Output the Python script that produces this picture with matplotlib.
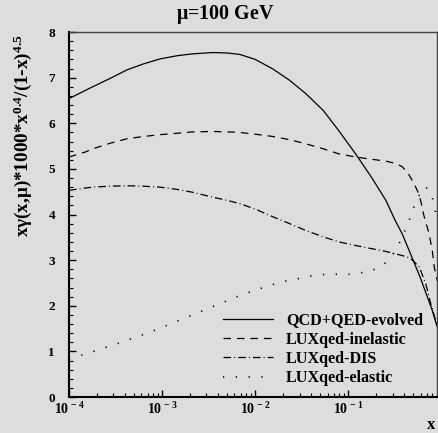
import numpy as np
import matplotlib
matplotlib.use('Agg')
import matplotlib.pyplot as plt
from matplotlib.ticker import MultipleLocator, LogLocator, NullFormatter

# photon PDF at mu = 100 GeV, weighted by 1000*x^0.4/(1-x)^4.5
x_grid = [1e-4, 1.5e-4, 1.8e-4, 2.75e-4, 4.2e-4, 6.3e-4, 9.5e-4, 1.45e-3, 2.1e-3,
          3.5e-3, 5.0e-3, 6.8e-3, 0.01, 0.0155, 0.0235, 0.035, 0.054, 0.079, 0.12,
          0.18, 0.254, 0.32, 0.38]

x_evolved = x_grid + [0.51, 0.60, 0.71, 0.80, 0.87, 0.9]
y_evolved = [6.54, 6.72, 6.80, 6.98, 7.17, 7.30, 7.41, 7.48, 7.52,
             7.55, 7.54, 7.51, 7.40, 7.19, 6.94, 6.65, 6.28, 5.84, 5.33,
             4.80, 4.31, 3.87, 3.58,
             2.95, 2.60, 2.19, 1.90, 1.65, 1.55]

x_inel = x_grid + [0.45, 0.51, 0.56, 0.60, 0.65, 0.74, 0.80, 0.84, 0.895, 0.9]
y_inel = [5.26, 5.37, 5.44, 5.56, 5.66, 5.71, 5.75, 5.78, 5.81,
          5.82, 5.81, 5.80, 5.76, 5.71, 5.64, 5.55, 5.44, 5.33, 5.26,
          5.21, 5.17, 5.12, 5.05,
          4.87, 4.68, 4.50, 4.31, 3.98, 3.58, 3.22, 2.85, 2.60, 2.55]

x_dis = x_grid + [0.43, 0.49, 0.58, 0.68, 0.77, 0.87, 0.9]
y_dis = [4.53, 4.58, 4.60, 4.62, 4.63, 4.62, 4.60, 4.55, 4.49,
         4.38, 4.31, 4.24, 4.12, 3.95, 3.80, 3.65, 3.51, 3.40, 3.32,
         3.25, 3.19, 3.14, 3.10,
         3.07, 3.00, 2.85, 2.49, 2.05, 1.68, 1.58]

x_el = [1e-4, 1.48e-4, 2.04e-4, 2.8e-4, 3.8e-4, 5.2e-4, 7.2e-4, 9.8e-4, 1.33e-3,
        1.8e-3, 2.45e-3, 3.3e-3, 4.6e-3, 6.2e-3, 8.5e-3, 0.0115, 0.0158, 0.022,
        0.030, 0.042, 0.058, 0.079, 0.11, 0.155, 0.21, 0.275, 0.34, 0.44, 0.49,
        0.555, 0.64, 0.70, 0.78, 0.85, 0.9]
y_el = [0.83, 0.94, 1.03, 1.12, 1.21, 1.31, 1.41, 1.52, 1.63,
        1.74, 1.85, 1.96, 2.08, 2.19, 2.29, 2.38, 2.47, 2.55,
        2.60, 2.66, 2.69, 2.69, 2.69, 2.74, 2.82, 3.00, 3.29, 3.80, 4.09,
        4.35, 4.60, 4.58, 4.46, 4.16, 3.87]

labels = ['QCD+QED-evolved', 'LUXqed-inelastic', 'LUXqed-DIS', 'LUXqed-elastic']
xticks = [1e-4, 1e-3, 1e-2, 1e-1]
xticklabels = [r'$10^{\,-4}$', r'$10^{\,-3}$', r'$10^{\,-2}$', r'$10^{\,-1}$']

plt.rcParams['font.family'] = 'Liberation Serif'
plt.rcParams['font.weight'] = 'bold'
plt.rcParams['mathtext.fontset'] = 'custom'
plt.rcParams['mathtext.rm'] = 'Liberation Serif:bold'
plt.rcParams['mathtext.it'] = 'Liberation Serif:bold'
plt.rcParams['mathtext.bf'] = 'Liberation Serif:bold'
plt.rcParams['mathtext.default'] = 'rm'
plt.rcParams['lines.scale_dashes'] = False
plt.rcParams['lines.solid_joinstyle'] = 'round'
plt.rcParams['lines.dash_joinstyle'] = 'round'

bg = '#dddddd'
fig = plt.figure(figsize=(4.39, 4.33), dpi=100, facecolor=bg)
ax = fig.add_axes([69 / 439, 36 / 433, 368 / 439, 365 / 433], facecolor=bg)

lw = 0.9
ax.plot(x_evolved, y_evolved, color='black', lw=lw, label=labels[0])
ax.plot(x_inel, y_inel, color='black', lw=lw, dashes=(5.4, 4.3), label=labels[1])
ax.plot(x_dis, y_dis, color='black', lw=lw, dashes=(5.5, 2.2, 0.7, 2.2), label=labels[2])
ax.plot(x_el, y_el, color='black', lw=1.2, dashes=(0.9, 8.3), label=labels[3])

ax.set_xscale('log')
ax.set_xlim(1e-4, 0.9)
ax.set_ylim(0, 8)
ax.set_xticks(xticks)
ax.set_xticklabels(xticklabels)
ax.xaxis.set_minor_locator(LogLocator(base=10, subs=np.arange(2, 10)))
ax.xaxis.set_minor_formatter(NullFormatter())
ax.yaxis.set_major_locator(MultipleLocator(1))
ax.yaxis.set_minor_locator(MultipleLocator(0.2))

ax.tick_params(which='both', direction='in', color='black', top=False, right=False)
ax.tick_params(axis='y', which='major', length=5, width=1.0, pad=10, labelsize=9.5)
ax.tick_params(axis='y', which='minor', length=3, width=0.8)
ax.tick_params(axis='x', which='major', length=5, width=1.0, pad=3, labelsize=10)
ax.tick_params(axis='x', which='minor', length=3, width=0.8)

for side in ['left', 'bottom']:
    ax.spines[side].set_linewidth(1.5)
for side in ['top', 'right']:
    ax.spines[side].set_linewidth(1.0)
    ax.spines[side].set_color('#444444')

leg = ax.legend(loc='lower right', bbox_to_anchor=(0.98, 0.012), frameon=False,
                fontsize=11.6, handlelength=3.05, handletextpad=0.85, labelspacing=0.2,
                borderaxespad=0)

fig.text(225 / 439, 1 - 15 / 433, r'$\mu$=100 GeV', ha='center', va='center',
         fontsize=14.4, fontweight='bold')
fig.text(22.5 / 439, 1 - 136 / 433, r'x$\gamma$(x,$\mu$)*1000*x$^{0.4}$/(1-x)$^{4.5}$',
         rotation=90, ha='center', va='center', fontsize=13.8, fontweight='bold')
fig.text(431 / 439, 1 - 425 / 433, 'x', ha='center', va='center',
         fontsize=12, fontweight='bold')

fig.savefig('out.png', dpi=100, facecolor=bg)
